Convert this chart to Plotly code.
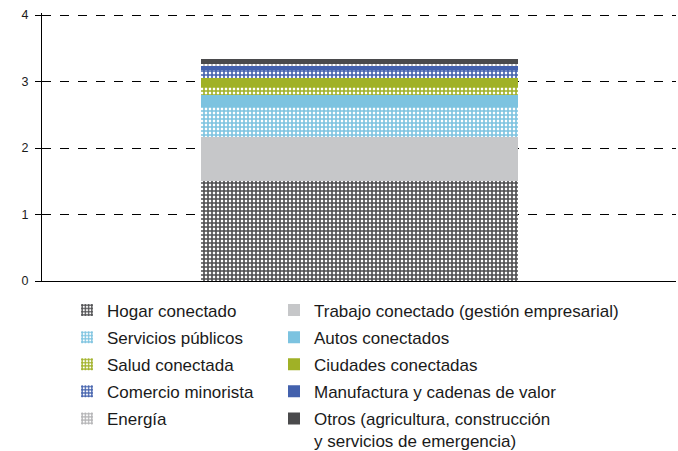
import plotly.graph_objects as go

categories = ["Total"]
segments = [
    "Hogar conectado",
    "Trabajo conectado (gestión empresarial)",
    "Servicios públicos",
    "Autos conectados",
    "Salud conectada",
    "Ciudades conectadas",
    "Comercio minorista",
    "Manufactura y cadenas de valor",
    "Energía",
    "Otros (agricultura, construcción<br>y servicios de emergencia)",
]
values = [1.50, 0.67, 0.45, 0.17, 0.12, 0.15, 0.12, 0.06, 0.03, 0.07]
colors = ["#4d4d4f", "#c6c7c9", "#7cc3e0", "#7cc3e0", "#a0b126",
          "#a0b126", "#4361ad", "#4361ad", "#b3b3b5", "#4a4a4c"]
gridded = [True, False, True, False, True, False, True, False, True, False]
legend_col = ["legend", "legend2"] * 5
y_ticks = [0, 1, 2, 3, 4]

fig = go.Figure()
for i, (name, val, col, grid) in enumerate(zip(segments, values, colors, gridded)):
    if grid:
        marker = dict(color="white",
                      pattern=dict(shape="+", fgcolor=col, bgcolor="white",
                                   size=4, solidity=0.65, fillmode="replace",
                                   fgopacity=1),
                      line=dict(width=0))
    else:
        marker = dict(color=col, line=dict(width=0))
    fig.add_trace(go.Bar(x=categories, y=[val], name=name, marker=marker, width=0.5,
                         legend=legend_col[i], legendgroup=f"g{i}"))

legend_style = dict(
    orientation="v", xanchor="left", y=-0.043, yanchor="top",
    traceorder="grouped", tracegroupgap=2, valign="top",
    bgcolor="rgba(0,0,0,0)", font=dict(size=17, color="#1a1a1a"),
    itemclick=False, itemdoubleclick=False,
)

fig.update_layout(
    barmode="stack",
    width=678, height=451,
    # fixed margins: the two legends sit below the plot without pushing it
    margin=dict(l=42, r=2, t=13, b=170, autoexpand=False),
    paper_bgcolor="white", plot_bgcolor="white",
    font=dict(family="Liberation Sans, Arial, sans-serif", color="#1a1a1a"),
    showlegend=True,
    legend=dict(x=(67 - 42) / 634, **legend_style),
    legend2=dict(x=(274 - 42) / 634, **legend_style),
)
fig.update_xaxes(showticklabels=False, showgrid=False, showline=True,
                 linecolor="black", linewidth=1.2, ticks="", zeroline=False,
                 automargin=False)
# a little headroom above 4 so plotly keeps the top dashed gridline
fig.update_yaxes(range=[0, 4.03], tickvals=y_ticks, showgrid=True,
                 gridcolor="black", griddash="dash", gridwidth=1,
                 showline=True, linecolor="black", linewidth=1.2,
                 ticks="outside", ticklen=6, tickcolor="black",
                 ticklabelstandoff=4, automargin=False,
                 zeroline=False, tickfont=dict(size=12.5, color="#1a1a1a"))

# drop the browser's default body margin so the figure fills the window
fig.write_html("out.html", config={"displayModeBar": False},
               post_script="document.body.style.margin='0';")
